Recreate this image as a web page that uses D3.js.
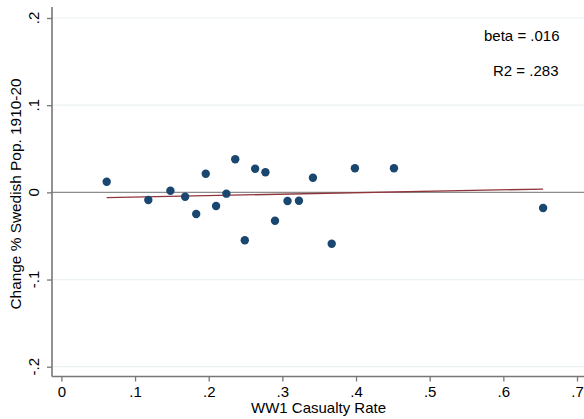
<!DOCTYPE html>
<html>
<head>
<meta charset="utf-8">
<script src="https://cdn.jsdelivr.net/npm/d3@7"></script>
<style>
html,body{margin:0;padding:0;background:#fff;}
svg{display:block;font-family:"Liberation Sans",Arial,Helvetica,sans-serif;}
</style>
</head>
<body>
<svg id="chart" width="584" height="419"></svg>
<script>
// Data
const casualtyRate = [0.0615,0.118,0.148,0.168,0.183,0.196,0.210,0.224,0.236,0.249,0.263,0.277,0.290,0.307,0.3225,0.3415,0.367,0.3985,0.4515,0.654];
const popChange    = [0.0122,-0.0088,0.0019,-0.005,-0.0248,0.0214,-0.0157,-0.0015,0.0379,-0.055,0.0271,0.023,-0.0325,-0.0099,-0.0096,0.0168,-0.0589,0.0276,0.0276,-0.018];
const fitX = [0.0615, 0.654];
const fitY = [-0.0061, 0.0038];
const xTicks = [0,0.1,0.2,0.3,0.4,0.5,0.6,0.7];
const xTickLabels = ["0",".1",".2",".3",".4",".5",".6",".7"];
const yTicks = [-0.2,-0.1,0,0.1,0.2];
const yTickLabels = ["-.2","-.1","0",".1",".2"];
const annotations = ["beta = .016","R2 = .283"];
const xTitle = "WW1 Casualty Rate";
const yTitle = "Change % Swedish Pop. 1910-20";

(function(){
const svg = d3.select("#chart");
const mLeft = 52, mRight = 584, mTop = 7, mBottom = 376.5;

const x = d3.scaleLinear().domain([0,0.7]).range([61.4, 577]);
const y = d3.scaleLinear().domain([-0.2,0.2]).range([366.7, 18]);

// gridlines
svg.append("g").selectAll("line").data(yTicks.filter(d=>d!==0)).join("line")
  .attr("x1", mLeft).attr("x2", mRight)
  .attr("y1", d=>y(d)).attr("y2", d=>y(d))
  .attr("stroke", "#eaf2f3").attr("stroke-width", 1.2);

// zero line
svg.append("line").attr("x1", mLeft).attr("x2", mRight)
  .attr("y1", y(0)).attr("y2", y(0))
  .attr("stroke", "#8c8c8c").attr("stroke-width", 1.2);

// fit line
svg.append("line")
  .attr("x1", x(fitX[0])).attr("y1", y(fitY[0]))
  .attr("x2", x(fitX[1])).attr("y2", y(fitY[1]))
  .attr("stroke", "#90353b").attr("stroke-width", 1.3);

// points
svg.append("g").selectAll("circle").data(casualtyRate.map((v,i)=>[v,popChange[i]])).join("circle")
  .attr("cx", d=>x(d[0])).attr("cy", d=>y(d[1])).attr("r", 4.2)
  .attr("fill", "#1a476f");

// Y axis
const yAxis = d3.axisLeft(y).tickValues(yTicks).tickSize(5).tickFormat((d,i)=>yTickLabels[i]);
const gy = svg.append("g").attr("transform", `translate(${mLeft},0)`).call(yAxis);
gy.select(".domain").remove();
gy.selectAll(".tick line").attr("stroke", "#777").attr("stroke-width", 1.3);
gy.selectAll(".tick text").remove();
svg.append("line").attr("x1", mLeft).attr("x2", mLeft).attr("y1", mTop).attr("y2", mBottom)
  .attr("stroke", "#777").attr("stroke-width", 1.6);
svg.append("g").selectAll("text").data(yTicks).join("text")
  .attr("transform", d=>`translate(38.5,${y(d)}) rotate(-90)`)
  .attr("text-anchor", "middle").attr("font-size", 15).attr("fill", "#000")
  .text((d,i)=>yTickLabels[i]);

// X axis
const xAxis = d3.axisBottom(x).tickValues(xTicks).tickSize(5).tickFormat((d,i)=>xTickLabels[i]);
const gx = svg.append("g").attr("transform", `translate(0,${mBottom})`).call(xAxis);
gx.select(".domain").remove();
gx.selectAll(".tick line").attr("stroke", "#777").attr("stroke-width", 1.3);
gx.selectAll(".tick text").attr("font-size", 15).attr("fill", "#000")
  .attr("font-family", "Liberation Sans, Arial, sans-serif").attr("dy", null).attr("y", 20.5);
svg.append("line").attr("x1", mLeft).attr("x2", mRight).attr("y1", mBottom).attr("y2", mBottom)
  .attr("stroke", "#777").attr("stroke-width", 1.6);

// titles
svg.append("text").attr("x", 318.5).attr("y", 413).attr("text-anchor", "middle")
  .attr("font-size", 15).attr("fill", "#000").text(xTitle);
svg.append("text").attr("transform", "translate(20.5,194) rotate(-90)")
  .attr("text-anchor", "middle").attr("font-size", 15.4).attr("fill", "#000").text(yTitle);

// annotations
svg.append("text").attr("x", 559.5).attr("y", 40.5).attr("text-anchor", "end")
  .attr("font-size", 15).attr("fill", "#000").text(annotations[0]);
svg.append("text").attr("x", 558.5).attr("y", 75.5).attr("text-anchor", "end")
  .attr("font-size", 15).attr("fill", "#000").text(annotations[1]);
})();
</script>
</body>
</html>
